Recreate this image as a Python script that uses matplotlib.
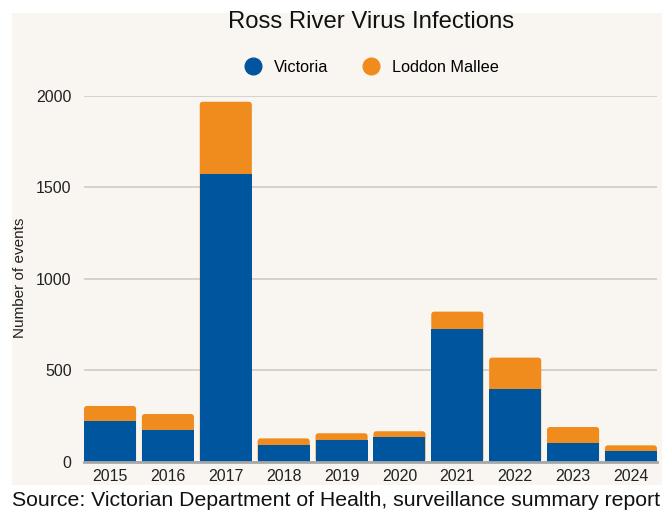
import numpy as np
import matplotlib.pyplot as plt
from matplotlib.patches import Rectangle, FancyBboxPatch
from matplotlib.lines import Line2D

plt.rcParams['font.family'] = ['Liberation Sans', 'DejaVu Sans']

years = ['2015', '2016', '2017', '2018', '2019', '2020', '2021', '2022', '2023', '2024']
victoria = [224, 177, 1570, 95, 120, 137, 728, 400, 105, 60]
loddon_mallee = [82, 85, 397, 34, 37, 31, 93, 170, 86, 31]

blue = '#00559f'
orange = '#f08c1e'
cream = '#f9f6f1'

W, H = 662, 514
fig = plt.figure(figsize=(W / 100, H / 100), dpi=100)
fig.patch.set_facecolor('white')
# cream panel behind the chart
fig.patches.append(Rectangle((12 / W, 1 - 485 / H), (W - 12) / W, (485 - 13) / H,
                             transform=fig.transFigure, facecolor=cream,
                             edgecolor='none', zorder=-5))

ax = fig.add_axes([84 / W, 1 - 462 / H, (657 - 84) / W, (462 - 95.7) / H])
ax.set_facecolor('none')

x = np.arange(len(years))
totals = np.array(victoria) + np.array(loddon_mallee)
width = 0.9

# orange bars with rounded tops: full stack height, blue drawn over the lower part
top_bars = ax.bar(x, totals, width, color=orange, label='Loddon Mallee', zorder=2)
aspect = (2000 / 366.3) / (9.9 / 573)
for b in top_bars:
    b.set_visible(False)
    p = FancyBboxPatch((b.get_x(), 0), b.get_width(), b.get_height(),
                       boxstyle='round,pad=0,rounding_size=0.055',
                       mutation_aspect=aspect, facecolor=orange,
                       edgecolor='none', zorder=2)
    ax.add_patch(p)
ax.bar(x, victoria, width, color=blue, label='Victoria', zorder=3)

ax.set_xlim(-0.45, len(years) - 0.55)
ax.set_ylim(0, 2000)
ax.set_yticks([0, 500, 1000, 1500, 2000])
ax.set_xticks(x)
ax.set_xticklabels(years)
ax.tick_params(axis='both', length=0, labelsize=11.5, colors='#222222')
ax.tick_params(axis='x', pad=5)
ax.tick_params(axis='y', pad=9)
ax.yaxis.grid(True, color='#d2cec9', linewidth=1.3)
ax.set_axisbelow(True)
for s in ['top', 'right', 'left']:
    ax.spines[s].set_visible(False)
ax.spines['bottom'].set_color('#a8a8a8')
ax.spines['bottom'].set_linewidth(2)
ax.spines['bottom'].set_zorder(4)

ax.set_ylabel('Number of events', fontsize=11, color='#222222')
ax.yaxis.set_label_coords(-0.0995, 0.503)

fig.text(371 / W, 1 - 22 / H, 'Ross River Virus Infections', ha='center', va='center',
         fontsize=17.2, color='#111111')

handles = [Line2D([], [], marker='o', linestyle='none', markersize=12, color=blue),
           Line2D([], [], marker='o', linestyle='none', markersize=12, color=orange)]
fig.legend(handles, ['Victoria', 'Loddon Mallee'], loc='center', ncol=2,
           bbox_to_anchor=(368 / W, 1 - 67 / H), frameon=False, fontsize=11.7,
           handletextpad=0.3, columnspacing=1.6)

fig.text(12 / W, 1 - 500 / H,
         'Source: Victorian Department of Health, surveillance summary report',
         ha='left', va='center', fontsize=15.3, color='#111111')

fig.savefig('out.png', dpi=100)
